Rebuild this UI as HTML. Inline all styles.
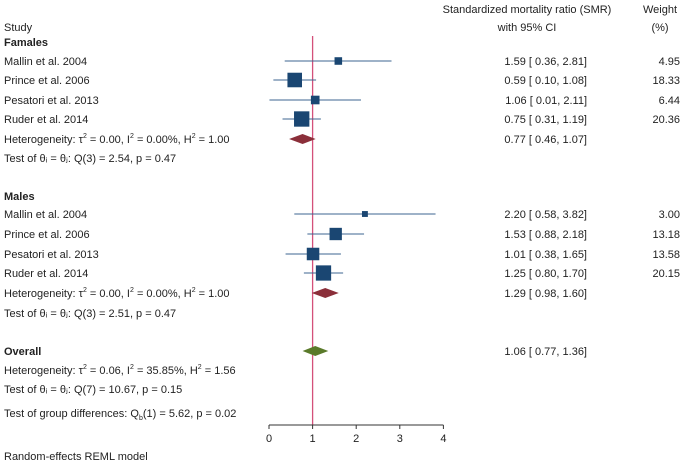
<!DOCTYPE html>
<html><head><meta charset="utf-8">
<style>
html,body{margin:0;padding:0;background:#fff;}
svg{display:block;font-family:"Liberation Sans",Arial,sans-serif;font-size:11px;fill:#222;}
</style></head>
<body>
<svg id="chart" width="685" height="462" viewBox="0 0 685 462">
<text x="4" y="31">Study</text>
<text x="527" y="13" text-anchor="middle">Standardized mortality ratio (SMR)</text>
<text x="527" y="31" text-anchor="middle">with 95% CI</text>
<text x="660" y="13" text-anchor="middle">Weight</text>
<text x="660" y="31" text-anchor="middle">(%)</text>
<g id="rows"></g>
<g id="axis"></g>
<text x="4" y="460">Random-effects REML model</text>
</svg>
<script>
const studyLabels=["Mallin et al. 2004","Prince et al. 2006","Pesatori et al. 2013","Ruder et al. 2014","Mallin et al. 2004","Prince et al. 2006","Pesatori et al. 2013","Ruder et al. 2014"];
const studyEst=[1.59,0.59,1.06,0.75,2.20,1.53,1.01,1.25];
const studyLo=[0.36,0.10,0.01,0.31,0.58,0.88,0.38,0.80];
const studyHi=[2.81,1.08,2.11,1.19,3.82,2.18,1.65,1.70];
const studyWeight=[4.95,18.33,6.44,20.36,3.00,13.18,13.58,20.15];
const studyRowY=[61,80,100,119,214,234,254,273];
const pooledEst=[0.77,1.29,1.06];
const pooledLo=[0.46,0.98,0.77];
const pooledHi=[1.07,1.60,1.36];
const pooledColor=["#8b2f3a","#8b2f3a","#5a7a2a"];
const pooledRowY=[139,293,351];
const axisTicks=[0,1,2,3,4];
const NS="http://www.w3.org/2000/svg";
const x0=269,pxPer=43.6,axisY=425;
const sx=v=>x0+v*pxPer;
const rows=document.getElementById('rows');
const axis=document.getElementById('axis');
function mk(tag,attrs,parent,txt){const e=document.createElementNS(NS,tag);for(const k in attrs)e.setAttribute(k,attrs[k]);if(txt!==undefined)e.textContent=txt;parent.appendChild(e);return e;}
const ref=mk('line',{x1:sx(1),x2:sx(1),y1:36,y2:axisY,stroke:'#d4507a','stroke-width':1.3},rows);


const texts=[
 [4,46,"Famales",'bold','group-females-label'],
 [4,200,"Males",'bold','group-males-label'],
 [4,355,"Overall",'bold','overall-label'],
 [4,162,"Test of θᵢ = θⱼ: Q(3) = 2.54, p = 0.47",'normal','females-test'],
 [4,317,"Test of θᵢ = θⱼ: Q(3) = 2.51, p = 0.47",'normal','males-test'],
 [4,393,"Test of θᵢ = θⱼ: Q(7) = 10.67, p = 0.15",'normal','overall-test']
];
texts.forEach(t=>{const e=mk('text',{x:t[0],y:t[1],'font-weight':t[3]},rows,t[2]);
 
 });
const gd=mk('text',{x:4,y:417},rows);


gd.innerHTML='Test of group differences: Q<tspan dy="3" font-size="7">b</tspan><tspan dy="-3">(1) = 5.62, p = 0.02</tspan>';
const hets=[["0.00","0.00%","1.00"],["0.00","0.00%","1.00"],["0.06","35.85%","1.56"]];
const f=v=>v.toFixed(2);
pooledEst.forEach((e,i)=>{
 const y=pooledRowY[i];
 const ht=mk('text',{x:4,y:(i<2?y+4:374)},rows);
 
 
 ht.innerHTML=`Heterogeneity: τ<tspan dy="-5" font-size="7">2</tspan><tspan dy="5"> = ${hets[i][0]}, I</tspan><tspan dy="-5" font-size="7">2</tspan><tspan dy="5"> = ${hets[i][1]}, H</tspan><tspan dy="-5" font-size="7">2</tspan><tspan dy="5"> = ${hets[i][2]}</tspan>`;
 const d=mk('polygon',{points:`${sx(pooledLo[i])},${y} ${sx(e)},${y-5} ${sx(pooledHi[i])},${y} ${sx(e)},${y+5}`,fill:pooledColor[i]},rows);
 
 
 const v=mk('text',{x:587,y:y+4,'text-anchor':'end'},rows,`${f(e)} [ ${f(pooledLo[i])}, ${f(pooledHi[i])}]`);
 
 
});
studyEst.forEach((e,i)=>{
 const y=studyRowY[i];
 const l=mk('text',{x:4,y:y+4},rows,studyLabels[i]);
 
 
 const ci=mk('line',{x1:sx(studyLo[i]),x2:sx(studyHi[i]),y1:y,y2:y,stroke:'#3d6690','stroke-width':1},rows);
 
 
 const s=Math.sqrt(studyWeight[i])*3.4;
 const r=mk('rect',{x:sx(e)-s/2,y:y-s/2,width:s,height:s,fill:'#1a4672'},rows);
 
 
 const v=mk('text',{x:587,y:y+4,'text-anchor':'end'},rows,`${f(e)} [ ${f(studyLo[i])}, ${f(studyHi[i])}]`);
 
 
 const w=mk('text',{x:680,y:y+4,'text-anchor':'end'},rows,f(studyWeight[i]));
 
 
});
const al=mk('line',{x1:sx(axisTicks[0]),x2:sx(axisTicks[axisTicks.length-1]),y1:axisY,y2:axisY,stroke:'#333','stroke-width':1},axis);


axisTicks.forEach(t=>{
 const tk=mk('line',{x1:sx(t),x2:sx(t),y1:axisY,y2:axisY+4,stroke:'#333'},axis);
 
 
 const tl=mk('text',{x:sx(t),y:axisY+17,'text-anchor':'middle'},axis,String(t));
 
 
});
</script>
</body></html>
